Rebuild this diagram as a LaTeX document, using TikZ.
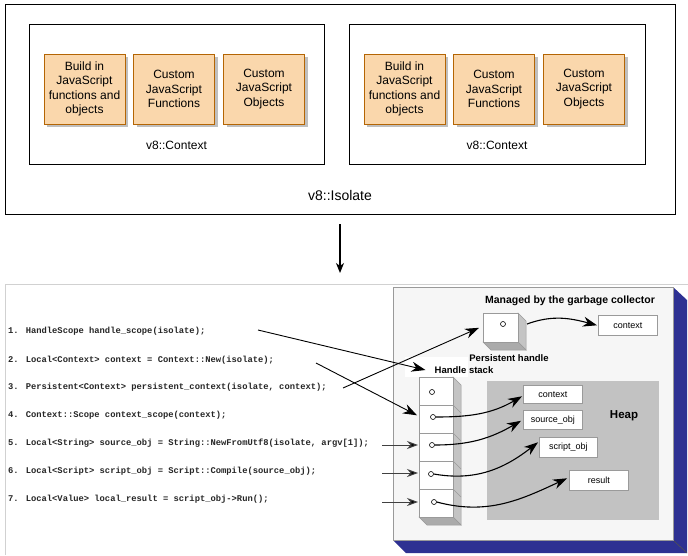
\documentclass[tikz,border=0pt]{standalone}
\usepackage{fontspec}
\setmainfont{Liberation Sans}
\newfontfamily\codefont{Liberation Mono}
\usetikzlibrary{arrows.meta,calc,shadows}
\definecolor{orfill}{HTML}{FAD7AC}
\definecolor{orline}{HTML}{B46504}
\definecolor{navy}{HTML}{2E3192}
\definecolor{gcface}{HTML}{F6F6F6}
\definecolor{gcline}{HTML}{9A9A9A}
\definecolor{heapgray}{HTML}{C2C2C2}
\definecolor{sidegray}{HTML}{C4C4C4}
\definecolor{botgray}{HTML}{ABABAB}
\begin{document}
\begin{tikzpicture}[x=1pt,y=-1pt,
  frame/.style={draw=black, line width=0.9pt, inner sep=0pt, outer sep=0pt, anchor=north west},
  obox/.style={draw=orline, fill=orfill, line width=0.8pt, minimum width=81pt, minimum height=70pt,
    inner sep=1pt, align=center, font=\fontsize{12}{14.5}\selectfont,
    drop shadow={shadow xshift=3pt, shadow yshift=-3pt, fill=black!25, opacity=1}},
  lbl/.style={font=\fontsize{12}{14}\selectfont, inner sep=0pt},
  code/.style={anchor=west, text=black!85, font=\codefont\bfseries\fontsize{8.8}{10}\selectfont, inner sep=0pt},
  bold/.style={font=\bfseries\fontsize{9.5}{11}\selectfont, inner sep=0pt},
  wbox/.style={draw=gcline, fill=white, line width=0.6pt, inner sep=0pt, anchor=north west,
    font=\fontsize{9}{10}\selectfont},
  cell/.style={draw=gcline, fill=white, line width=0.6pt, minimum width=34pt, minimum height=28pt,
    inner sep=0pt, anchor=north west},
  hole/.style={circle, draw=black, line width=0.6pt, minimum size=5pt, inner sep=0pt},
  bigarrow/.style={line width=1.1pt, -{Stealth[length=14pt, width=10pt, inset=4.5pt]}},
  codearrow/.style={line width=1pt, draw=black!75, -{Stealth[length=11pt, width=8pt, inset=3.5pt, fill=black]}}
]
\useasboundingbox (0,0) rectangle (688,555);

% ---------------- top: isolate ----------------
\node[frame, minimum width=670pt, minimum height=210pt] (iso) at (5,4) {};
\node[frame, minimum width=295pt, minimum height=140pt] (ctxa) at (29,24) {};
\node[frame, minimum width=296pt, minimum height=140pt] (ctxb) at (349,24) {};

\node[obox] (a1) at (84.5,89) {Build in\\JavaScript\\functions and\\objects};
\node[obox] (a2) at (174,89) {Custom\\JavaScript\\Functions};
\node[obox] (a3) at (264,89) {Custom\\JavaScript\\Objects};
\node[obox] (b1) at (404.5,89) {Build in\\JavaScript\\functions and\\objects};
\node[obox] (b2) at (494,89) {Custom\\JavaScript\\Functions};
\node[obox] (b3) at (584,89) {Custom\\JavaScript\\Objects};

\node[lbl] (ctxal) at (176.5,145) {v8::Context};
\node[lbl] (ctxbl) at (497,145) {v8::Context};
\node[lbl, font=\fontsize{14}{16}\selectfont] (isol) at (340,195) {v8::Isolate};

\coordinate (downend) at (340,273);
\draw[line width=1.4pt, -{Stealth[length=10pt, width=8pt, inset=3pt]}] ([yshift=-10pt]iso.south) -- (downend);

% ---------------- bottom: screenshot ----------------
\draw[draw=black!18, line width=0.8pt] (688,284) -- (5,284) -- (5,555);

% garbage-collector box with 3D navy extrusion
\fill[navy] (673,287) -- (687,300) -- (687,553) -- (673,540) -- cycle;
\fill[navy] (393,540) -- (673,540) -- (687,553) -- (406,553) -- cycle;
\draw[black!70, line width=0.6pt] (673,540) -- (687,553);
\node[draw=gcline, fill=gcface, line width=0.7pt, minimum width=280pt, minimum height=253pt,
  inner sep=0pt, anchor=north west] (gc) at (393,287) {};
\node[font=\bfseries\fontsize{10.5}{12}\selectfont, inner sep=0pt] (gcl) at (570,301) {Managed by the garbage collector};

% heap
\node[fill=heapgray, minimum width=172pt, minimum height=139pt, inner sep=0pt, anchor=north west] (heap) at (487,381) {};
\node[font=\bfseries\fontsize{11.5}{13}\selectfont, inner sep=0pt] (heapl) at (624,416) {Heap};

% persistent handle cube
\fill[sidegray, draw=gcline, line width=0.5pt] (518,313) -- (526,321) -- (526,350) -- (518,342) -- cycle;
\fill[botgray, draw=gcline, line width=0.5pt] (483,342) -- (518,342) -- (526,350) -- (491,350) -- cycle;
\node[cell, minimum width=35pt, minimum height=29pt] (pf) at (483,313) {};
\node[hole] (ph) at (503,324) {};
\coordinate (pr) at (527,324);
\node[bold] (pl) at (509,358) {Persistent handle};

\node[wbox, minimum width=59pt, minimum height=20pt] (gctx) at (598,315) {context};

% handle stack
\fill[white] (405,357) rectangle (468,377);
\node[bold] (hsl) at (464,370) {Handle stack};
\fill[sidegray, draw=gcline, line width=0.5pt] (453,377) -- (461,385) -- (461,525) -- (453,517) -- cycle;
\fill[botgray, draw=gcline, line width=0.5pt] (419,517) -- (453,517) -- (461,525) -- (427,525) -- cycle;
\node[cell] (s1) at (419,377) {};
\node[cell] (s2) at (419,405) {};
\node[cell] (s3) at (419,433) {};
\node[cell] (s4) at (419,461) {};
\node[cell] (s5) at (419,489) {};
\foreach \yy in {405,433,461,489} \draw[gcline, line width=0.5pt] (453,\yy) -- (461,\yy+8);
\node[hole] (h1) at (432,392) {};
\node[hole] (h2) at (433,417) {};
\node[hole] (h3) at (432,445) {};
\node[hole] (h4) at (431,474) {};
\node[hole] (h5) at (434,502) {};

% heap objects
\node[wbox, minimum width=59pt, minimum height=18pt] (hctx) at (523,385) {context};
\node[wbox, minimum width=59pt, minimum height=19pt] (hsrc) at (523,410) {source\_obj};
\node[wbox, minimum width=58pt, minimum height=20pt] (hscr) at (539,437) {script\_obj};
\node[wbox, minimum width=59pt, minimum height=20pt] (hres) at (569,470) {result};

% code
\node[code] (l1) at (8,331) {1. HandleScope handle\_scope(isolate);};
\node[code] (l2) at (8,360) {2. Local<Context> context = Context::New(isolate);};
\node[code] (l3) at (8,387) {3. Persistent<Context> persistent\_context(isolate, context);};
\node[code] (l4) at (8,415) {4. Context::Scope context\_scope(context);};
\node[code] (l5) at (8,443) {5. Local<String> source\_obj = String::NewFromUtf8(isolate, argv[1]);};
\node[code] (l6) at (8,471) {6. Local<Script> script\_obj = Script::Compile(source\_obj);};
\node[code] (l7) at (8,499) {7. Local<Value> local\_result = script\_obj->Run();};

\coordinate (q1) at (258,330);
\coordinate (q2) at (316,363);
\coordinate (q3) at (343,388);
\coordinate (q5) at (382,445);
\coordinate (q6) at (382,473);
\coordinate (q7) at (382,502);

\draw[bigarrow, line width=0.9pt] (q1) -- ([xshift=-9pt]hsl.west);
\draw[bigarrow, line width=0.9pt] (q2) -- ([xshift=-2pt, yshift=4pt]s2.west);
\draw[bigarrow, line width=0.9pt] (q3) -- ([xshift=-4pt]pf.west);
\draw[codearrow] (q5) -- ([xshift=-1pt]s3.west |- q5);
\draw[codearrow] (q6) -- ([xshift=-1pt]s4.west |- q6);
\draw[codearrow] (q7) -- ([xshift=-1pt]s5.west |- q7);

% curved handle arrows
\draw[bigarrow] (pr) to[out=20, in=165] ([xshift=-1pt]gctx.west);
\draw[bigarrow] (h2.east) to[out=0, in=210] ([xshift=-1pt, yshift=-2pt]hctx.west);
\draw[bigarrow] (h3.east) to[out=0, in=210] ([xshift=-2pt, yshift=-1pt]hsrc.west);
\draw[bigarrow] (h4.east) to[out=-10, in=218] ([xshift=-1pt, yshift=5pt]hscr.west);
\draw[bigarrow] (h5.east) to[out=-15, in=205] ([xshift=-2pt, yshift=2pt]hres.west);
\end{tikzpicture}
\end{document}
